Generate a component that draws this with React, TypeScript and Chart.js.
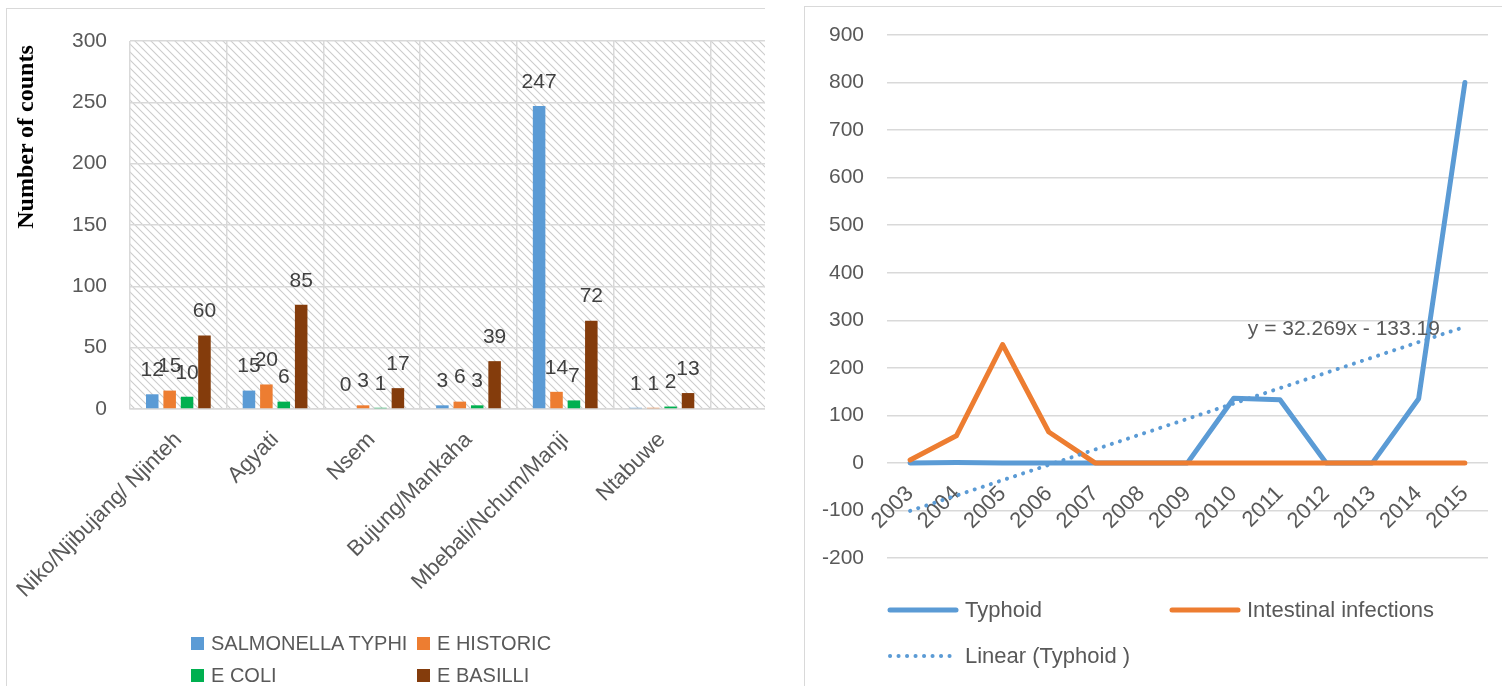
import React, { useEffect, useRef } from "react";
import { Chart, registerables } from "chart.js";

Chart.register(...registerables);

// ---------- Left chart data ----------
const SITES = [
  "Niko/Njibujang/ Njinteh",
  "Agyati",
  "Nsem",
  "Bujung/Mankaha",
  "Mbebali/Nchum/Manji",
  "Ntabuwe",
  "",
];
const SALMONELLA_TYPHI = [12, 15, 0, 3, 247, 1, null];
const E_HISTORIC = [15, 20, 3, 6, 14, 1, null];
const E_COLI = [10, 6, 1, 3, 7, 2, null];
const E_BASILLI = [60, 85, 17, 39, 72, 13, null];
const BAR_SERIES_NAMES = ["SALMONELLA TYPHI", "E HISTORIC", "E COLI", "E BASILLI"];
const BAR_COLORS = ["#5B9BD5", "#ED7D31", "#00B050", "#843C0C"];
const BAR_Y_MIN = 0;
const BAR_Y_MAX = 300;
const BAR_Y_STEP = 50;
const BAR_Y_TITLE = "Number of counts";

// ---------- Right chart data ----------
const YEARS = ["2003", "2004", "2005", "2006", "2007", "2008", "2009", "2010", "2011", "2012", "2013", "2014", "2015"];
const TYPHOID = [0, 1, 0, 0, 0, 0, 0, 136, 133, 0, 0, 135, 800];
const INTESTINAL = [6, 57, 249, 65, 0, 0, 0, 0, 0, 0, 0, 0, 0];
const TREND_SLOPE = 32.269;
const TREND_INTERCEPT = -133.19;
const LINE_NAMES = ["Typhoid", "Intestinal infections", "Linear (Typhoid )"];
const LINE_Y_MIN = -200;
const LINE_Y_MAX = 900;
const LINE_Y_STEP = 100;

const FONT = '"Liberation Sans", Arial, sans-serif';
const BLUE = "#5B9BD5";
const ORANGE = "#ED7D31";
const GRID = "#d9d9d9";
const TICK_COLOR = "#595959";

const hatchPlugin = {
  id: "hatch",
  beforeDraw(chart: any) {
    const { ctx, chartArea } = chart;
    const tile = document.createElement("canvas");
    tile.width = 8;
    tile.height = 8;
    const g = tile.getContext("2d")!;
    g.strokeStyle = "#cccccc";
    g.lineWidth = 1.1;
    g.beginPath();
    g.moveTo(-2, -2);
    g.lineTo(10, 10);
    g.moveTo(-2, 6);
    g.lineTo(2, 10);
    g.moveTo(6, -2);
    g.lineTo(10, 2);
    g.stroke();
    const pat = ctx.createPattern(tile, "repeat");
    ctx.save();
    ctx.fillStyle = pat;
    ctx.fillRect(chartArea.left, chartArea.top, chartArea.right - chartArea.left, chartArea.bottom - chartArea.top);
    ctx.restore();
  },
};

const barLabelPlugin = {
  id: "barLabels",
  afterDatasetsDraw(chart: any) {
    const ctx = chart.ctx;
    ctx.save();
    ctx.font = `21px ${FONT}`;
    ctx.fillStyle = "#404040";
    ctx.textAlign = "center";
    ctx.textBaseline = "middle";
    chart.data.datasets.forEach((ds: any, di: number) => {
      const meta = chart.getDatasetMeta(di);
      meta.data.forEach((el: any, i: number) => {
        const v = ds.data[i];
        if (v === null || v === undefined) return;
        ctx.fillText(String(v), el.x, el.y - 24);
      });
    });
    ctx.restore();
  },
};

const equationPlugin = {
  id: "equation",
  afterDatasetsDraw(chart: any) {
    const meta = chart.getDatasetMeta(0);
    const last = meta.data[meta.data.length - 1];
    if (!last) return;
    const ctx = chart.ctx;
    ctx.save();
    ctx.font = `21px ${FONT}`;
    ctx.fillStyle = "#595959";
    ctx.textAlign = "right";
    ctx.textBaseline = "middle";
    const sign = TREND_INTERCEPT < 0 ? "-" : "+";
    ctx.fillText(`y = ${TREND_SLOPE}x ${sign} ${Math.abs(TREND_INTERCEPT)}`, last.x - 25, last.y + 2);
    ctx.restore();
  },
};

function BarChart() {
  const ref = useRef<HTMLCanvasElement>(null);
  useEffect(() => {
    if (!ref.current) return;
    const series = [SALMONELLA_TYPHI, E_HISTORIC, E_COLI, E_BASILLI];
    const chart = new Chart(ref.current, {
      type: "bar",
      data: {
        labels: SITES,
        datasets: series.map((d, i) => ({
          label: BAR_SERIES_NAMES[i],
          data: d,
          backgroundColor: BAR_COLORS[i],
          borderWidth: 0,
          categoryPercentage: 0.72,
          barPercentage: 0.72,
        })),
      },
      options: {
        responsive: false,
        animation: false,
        devicePixelRatio: 1,
        layout: { padding: { left: 0, right: 80, top: 32, bottom: 0 } },
        plugins: { legend: { display: false }, tooltip: { enabled: false } },
        scales: {
          x: {
            grid: { color: GRID, lineWidth: 1.5, drawTicks: false, offset: true },
            border: { color: GRID, width: 1.5 },
            ticks: {
              font: { family: FONT, size: 22 },
              color: TICK_COLOR,
              minRotation: 45,
              maxRotation: 45,
              autoSkip: false,
              padding: 18,
            },
            afterFit: (s: any) => {
              s.height = 277;
              s.paddingLeft = 0;
              s.paddingRight = 0;
            },
          },
          y: {
            min: BAR_Y_MIN,
            max: BAR_Y_MAX,
            ticks: { stepSize: BAR_Y_STEP, padding: 23, font: { family: FONT, size: 21 }, color: TICK_COLOR },
            grid: { color: GRID, lineWidth: 1.5, drawTicks: false },
            border: { display: false },
            afterFit: (s: any) => {
              s.width = 123;
              s.paddingTop = 0;
              s.paddingBottom = 0;
            },
          },
        },
      } as any,
      plugins: [hatchPlugin, barLabelPlugin],
    });
    return () => chart.destroy();
  }, []);
  return <canvas ref={ref} width={880} height={677} style={{ position: "absolute", left: 0, top: 0 }} />;
}

function LineChart() {
  const ref = useRef<HTMLCanvasElement>(null);
  useEffect(() => {
    if (!ref.current) return;
    const trend = YEARS.map((_, i) => TREND_SLOPE * (i + 1) + TREND_INTERCEPT);
    const chart = new Chart(ref.current, {
      type: "line",
      data: {
        labels: YEARS,
        datasets: [
          {
            label: LINE_NAMES[2],
            data: trend,
            borderColor: BLUE,
            borderWidth: 4,
            borderDash: [0.1, 8.4],
            borderCapStyle: "round",
            pointRadius: 0,
            order: 0,
          },
          {
            label: LINE_NAMES[1],
            data: INTESTINAL,
            borderColor: ORANGE,
            borderWidth: 5,
            borderCapStyle: "round",
            borderJoinStyle: "round",
            pointRadius: 0,
            order: 1,
          },
          {
            label: LINE_NAMES[0],
            data: TYPHOID,
            borderColor: BLUE,
            borderWidth: 5,
            borderCapStyle: "round",
            borderJoinStyle: "round",
            pointRadius: 0,
            order: 2,
          },
        ],
      },
      options: {
        responsive: false,
        animation: false,
        devicePixelRatio: 1,
        layout: { padding: { left: 0, right: 14, top: 28, bottom: 128 } },
        plugins: { legend: { display: false }, tooltip: { enabled: false } },
        scales: {
          x: {
            type: "category",
            offset: true,
            position: { y: 0 },
            grid: { display: false, drawTicks: false },
            border: { display: false },
            ticks: {
              font: { family: FONT, size: 22 },
              color: TICK_COLOR,
              minRotation: 45,
              maxRotation: 45,
              autoSkip: false,
              padding: 18,
            },
            afterFit: (s: any) => {
              s.paddingLeft = 0;
              s.paddingRight = 0;
            },
          },
          y: {
            min: LINE_Y_MIN,
            max: LINE_Y_MAX,
            ticks: { stepSize: LINE_Y_STEP, padding: 23, font: { family: FONT, size: 21 }, color: TICK_COLOR },
            grid: { color: GRID, lineWidth: 1.5, drawTicks: false },
            border: { display: false },
            afterFit: (s: any) => {
              s.width = 82;
              s.paddingTop = 0;
              s.paddingBottom = 0;
            },
          },
        },
      } as any,
      plugins: [equationPlugin],
    });
    return () => chart.destroy();
  }, []);
  return <canvas ref={ref} width={697} height={679} style={{ position: "absolute", left: 0, top: 0 }} />;
}

function LineSample({ color, dotted }: { color: string; dotted?: boolean }) {
  return (
    <svg width={72} height={12} style={{ display: "block", flex: "none" }}>
      {dotted ? (
        <line x1={3} y1={6} x2={69} y2={6} stroke={color} strokeWidth={4} strokeDasharray="0.1 8.4" strokeLinecap="round" />
      ) : (
        <line x1={3} y1={6} x2={69} y2={6} stroke={color} strokeWidth={5} strokeLinecap="round" />
      )}
    </svg>
  );
}

export default function App() {
  const lineLegend = [
    { name: LINE_NAMES[0], color: BLUE, dotted: false },
    { name: LINE_NAMES[1], color: ORANGE, dotted: false },
    { name: LINE_NAMES[2], color: BLUE, dotted: true },
  ];
  return (
    <div
      style={{
        position: "fixed",
        left: 0,
        top: 0,
        width: 1502,
        height: 686,
        overflow: "hidden",
        background: "#fff",
        fontFamily: FONT,
      }}
    >
      {/* Left panel */}
      <div
        style={{
          position: "absolute",
          left: 6,
          top: 8,
          width: 758,
          height: 700,
          borderLeft: `1px solid ${GRID}`,
          borderTop: `1px solid ${GRID}`,
          overflow: "hidden",
        }}
      >
        <BarChart />
      </div>
      <div
        style={{
          position: "absolute",
          left: 25 - 110,
          top: 137 - 16,
          width: 220,
          height: 32,
          lineHeight: "32px",
          textAlign: "center",
          transform: "rotate(-90deg)",
          fontFamily: '"Liberation Serif", "Times New Roman", serif',
          fontWeight: "bold",
          fontSize: 24,
          color: "#000",
          whiteSpace: "nowrap",
        }}
      >
        {BAR_Y_TITLE}
      </div>
      <div
        style={{
          position: "absolute",
          left: 191,
          top: 627,
          display: "grid",
          gridTemplateColumns: "226px auto",
          gridAutoRows: "32px",
          fontSize: 20,
          color: TICK_COLOR,
          whiteSpace: "nowrap",
        }}
      >
        {BAR_SERIES_NAMES.map((n, i) => (
          <div key={n} style={{ display: "flex", alignItems: "center" }}>
            <span style={{ width: 13, height: 13, background: BAR_COLORS[i], display: "inline-block", marginRight: 7 }} />
            <span>{n}</span>
          </div>
        ))}
      </div>

      {/* Right panel */}
      <div
        style={{
          position: "absolute",
          left: 804,
          top: 6,
          width: 698,
          height: 690,
          borderLeft: `1px solid ${GRID}`,
          borderTop: `1px solid ${GRID}`,
          overflow: "hidden",
        }}
      >
        <LineChart />
      </div>
      <div
        style={{
          position: "absolute",
          left: 887,
          top: 587,
          display: "grid",
          gridTemplateColumns: "282px auto",
          gridAutoRows: "46px",
          fontSize: 22,
          color: TICK_COLOR,
          whiteSpace: "nowrap",
        }}
      >
        {lineLegend.map((it) => (
          <div key={it.name} style={{ display: "flex", alignItems: "center" }}>
            <LineSample color={it.color} dotted={it.dotted} />
            <span style={{ marginLeft: 6 }}>{it.name}</span>
          </div>
        ))}
      </div>
    </div>
  );
}
